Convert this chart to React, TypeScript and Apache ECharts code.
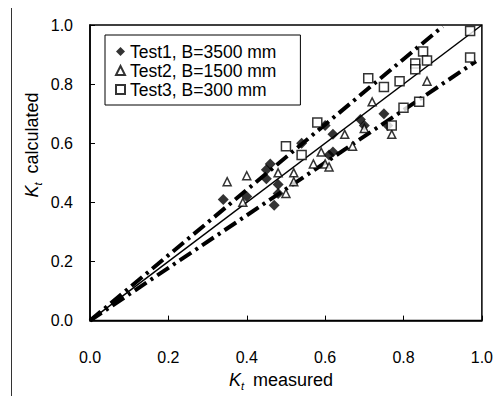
import React, { useEffect, useRef } from "react";
import * as echarts from "echarts";

const test1: number[][] = [
  [0.34, 0.41], [0.40, 0.42], [0.45, 0.48], [0.45, 0.51], [0.46, 0.53],
  [0.47, 0.39], [0.48, 0.43], [0.48, 0.46], [0.54, 0.60], [0.60, 0.66],
  [0.61, 0.56], [0.62, 0.57], [0.62, 0.63], [0.69, 0.68], [0.70, 0.66],
  [0.75, 0.70], [0.76, 0.66],
];

const test2: number[][] = [
  [0.35, 0.47], [0.39, 0.40], [0.40, 0.49], [0.48, 0.50], [0.50, 0.43],
  [0.52, 0.50], [0.52, 0.47], [0.57, 0.53], [0.59, 0.57], [0.60, 0.53],
  [0.61, 0.52], [0.65, 0.63], [0.67, 0.59], [0.70, 0.65], [0.72, 0.74],
  [0.77, 0.63], [0.86, 0.81],
];

const test3: number[][] = [
  [0.50, 0.59], [0.54, 0.56], [0.58, 0.67], [0.71, 0.82], [0.75, 0.79],
  [0.77, 0.66], [0.79, 0.81], [0.80, 0.72], [0.83, 0.87], [0.83, 0.85],
  [0.84, 0.74], [0.85, 0.91], [0.86, 0.88], [0.97, 0.98], [0.97, 0.89],
];

const equalityLine: number[][] = [[0, 0], [1, 1]];
const upperLine: number[][] = [[0, 0], [0.9, 0.995]];
const lowerLine: number[][] = [[0, 0], [0.985, 0.877]];

const seriesNames = ["Test1, B=3500 mm", "Test2, B=1500 mm", "Test3, B=300 mm"];

export default function App() {
  const ref = useRef<HTMLDivElement>(null);
  useEffect(() => {
    if (!ref.current) return;
    const chart = echarts.init(ref.current, null, { renderer: "svg" });
    const font = "Liberation Sans, Arial, sans-serif";
    const dashLine = {
      color: "#000",
      width: 4,
      type: [14, 5, 3, 5] as any,
      cap: "butt" as const,
    };
    chart.setOption({
      animation: false,
      backgroundColor: "#fff",
      textStyle: { fontFamily: font },
      grid: {
        left: 90,
        right: 10,
        top: 25,
        bottom: 66,
        show: true,
        borderColor: "#000",
        borderWidth: 1.5,
      },
      legend: {
        orient: "vertical",
        left: 105,
        top: 35,
        data: seriesNames,
        itemWidth: 9,
        itemHeight: 9,
        itemGap: 0,
        padding: [7, 24, 6, 10],
        borderColor: "#000",
        borderWidth: 1,
        backgroundColor: "#fff",
        textStyle: {
          fontFamily: font,
          fontSize: 17.5,
          lineHeight: 19,
          color: "#000",
        },
      },
      xAxis: {
        type: "value",
        min: 0,
        max: 1,
        interval: 0.2,
        axisLine: { lineStyle: { color: "#000", width: 1.5 } },
        axisTick: { inside: true, length: 5, lineStyle: { color: "#000" } },
        splitLine: { show: false },
        axisLabel: {
          color: "#000",
          fontSize: 16,
          fontFamily: font,
          margin: 29,
          formatter: (v: number) => v.toFixed(1),
        },
        name: "{k|K}{s|t}{m| measured}",
        nameLocation: "middle",
        nameGap: 46,
        nameTextStyle: {
          padding: [0, 10, 0, 0],
          rich: {
            k: { fontSize: 18, fontStyle: "italic", fontFamily: font, color: "#000" },
            s: { fontSize: 11, fontStyle: "italic", fontFamily: font, color: "#000", padding: [12, 4, 0, 0] },
            m: { fontSize: 18, fontFamily: font, color: "#000" },
          },
        },
      },
      yAxis: {
        type: "value",
        min: 0,
        max: 1,
        interval: 0.2,
        axisLine: { lineStyle: { color: "#000", width: 1.5 } },
        axisTick: { inside: true, length: 5, lineStyle: { color: "#000" } },
        splitLine: { show: false },
        axisLabel: {
          color: "#000",
          fontSize: 16,
          fontFamily: font,
          margin: 17,
          formatter: (v: number) => v.toFixed(1),
        },
      },
      graphic: [
        {
          type: "line",
          shape: { x1: 11.5, y1: 8, x2: 11.5, y2: 396 },
          style: { stroke: "#333", lineWidth: 1 },
        },
        {
          type: "text",
          x: 32,
          y: 145,
          rotation: Math.PI / 2,
          style: {
            text: "{k|K}{s|t}{m| calculated}",
            align: "center",
            verticalAlign: "middle",
            rich: {
              k: { fontSize: 18, fontStyle: "italic", fontFamily: font, fill: "#000" },
              s: { fontSize: 11, fontStyle: "italic", fontFamily: font, fill: "#000", padding: [12, 4, 0, 0] },
              m: { fontSize: 18, fontFamily: font, fill: "#000" },
            },
          },
        },
      ],
      series: [
        {
          name: "eq",
          type: "line",
          data: equalityLine,
          showSymbol: false,
          lineStyle: { color: "#000", width: 1.5 },
          z: 1,
        },
        {
          name: "upper",
          type: "line",
          data: upperLine,
          showSymbol: false,
          lineStyle: dashLine,
          z: 1,
        },
        {
          name: "lower",
          type: "line",
          data: lowerLine,
          showSymbol: false,
          lineStyle: dashLine,
          z: 1,
        },
        {
          name: seriesNames[0],
          type: "scatter",
          data: test1,
          symbol: "diamond",
          symbolSize: 11,
          itemStyle: { color: "#000" },
          z: 3,
        },
        {
          name: seriesNames[1],
          type: "scatter",
          data: test2,
          symbol: "triangle",
          symbolSize: 8,
          itemStyle: { color: "#fff", borderColor: "#000", borderWidth: 1.5 },
          z: 3,
        },
        {
          name: seriesNames[2],
          type: "scatter",
          data: test3,
          symbol: "rect",
          symbolSize: 9,
          itemStyle: { color: "#fff", borderColor: "#000", borderWidth: 1.5 },
          z: 3,
        },
      ],
    });
    return () => chart.dispose();
  }, []);
  return (
    <div
      ref={ref}
      style={{ position: "fixed", left: 0, top: 0, width: 496, height: 396 }}
    />
  );
}
